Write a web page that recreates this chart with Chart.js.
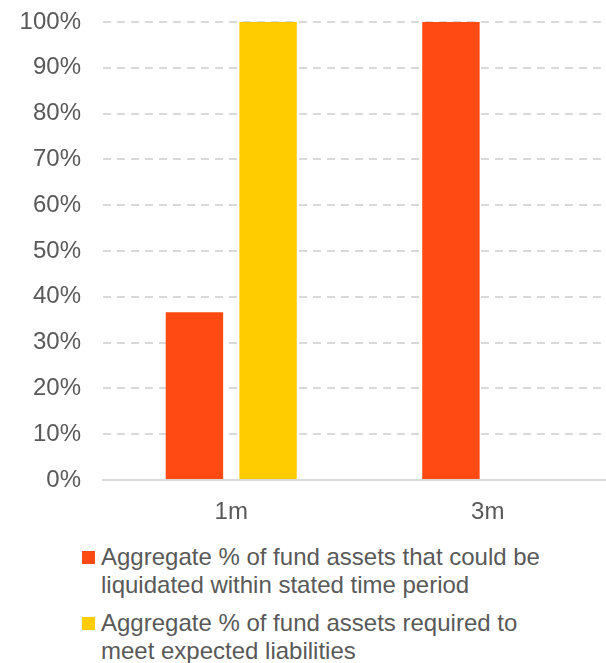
<!DOCTYPE html>
<html>
<head>
<meta charset="utf-8">
<script src="https://cdn.jsdelivr.net/npm/chart.js@4"></script>
<style>
    html, body { margin: 0; padding: 0; background: #fff; overflow: hidden; }
    body { width: 606px; height: 663px; position: relative; font-family: "Liberation Sans", Arial, sans-serif; }
    #wrap { position: absolute; left: 0; top: 0; width: 616px; height: 532px; }
    #legend { position: absolute; left: 82px; top: 543px; width: 480px; color: #595959; font-size: 24px; line-height: 28px; }
    .item { position: relative; padding-left: 19px; margin-bottom: 10px; }
    .box { position: absolute; left: 0; top: 8px; width: 13px; height: 13px; }
</style>
</head>
<body>
<div id="wrap"><canvas id="chart"></canvas></div>
<div id="legend"></div>
<script>
    // Dati
    const categories = ['1m', '3m'];
    const liquidated = [36.6, 100];
    const required = [100, 0];
    const seriesLabels = [
        'Aggregate % of fund assets that could be liquidated within stated time period',
        'Aggregate % of fund assets required to meet expected liabilities'
    ];
    const yTicks = [0, 10, 20, 30, 40, 50, 60, 70, 80, 90, 100];

    const colors = ['#FF4A14', '#FFCC00'];
    const textColor = '#595959';

    // Legenda in HTML (testo su due righe)
    const legend = document.getElementById('legend');
    seriesLabels.forEach((label, i) => {
        const div = document.createElement('div');
        div.className = 'item';
        div.innerHTML = '<span class="box" style="background:' + colors[i] + '"></span>' + label;
        legend.appendChild(div);
    });

    const ctx = document.getElementById('chart').getContext('2d');
    new Chart(ctx, {
        type: 'bar',
        data: {
            labels: categories,
            datasets: [
                { label: seriesLabels[0], data: liquidated, backgroundColor: colors[0] },
                { label: seriesLabels[1], data: required, backgroundColor: colors[1] }
            ]
        },
        options: {
            responsive: true,
            maintainAspectRatio: false,
            animation: false,
            layout: { padding: { top: 22, right: 0, bottom: 0, left: 0 } },
            datasets: {
                bar: { categoryPercentage: 0.574, barPercentage: 0.78 }
            },
            plugins: {
                legend: { display: false },
                tooltip: { enabled: false }
            },
            scales: {
                x: {
                    grid: { display: false, drawTicks: false },
                    border: { display: true, color: '#D9D9D9', width: 2 },
                    ticks: {
                        color: textColor,
                        padding: 18,
                        font: { family: 'Liberation Sans', size: 24 }
                    },
                    afterFit: (axis) => { axis.height = 52; }
                },
                y: {
                    min: 0,
                    max: 100,
                    afterBuildTicks: (axis) => { axis.ticks = yTicks.map(v => ({ value: v })); },
                    grid: {
                        color: (c) => c.tick.value === 0 ? 'rgba(0,0,0,0)' : '#D9D9D9',
                        lineWidth: 2,
                        drawTicks: false
                    },
                    border: { display: false, dash: [8, 6] },
                    ticks: {
                        color: textColor,
                        padding: 22,
                        font: { family: 'Liberation Sans', size: 24 },
                        callback: (value) => value + '%'
                    },
                    afterFit: (axis) => {
                        axis.width = 103;
                        axis.paddingTop = 0;
                        axis.paddingBottom = 0;
                    }
                }
            }
        }
    });
</script>
</body>
</html>
